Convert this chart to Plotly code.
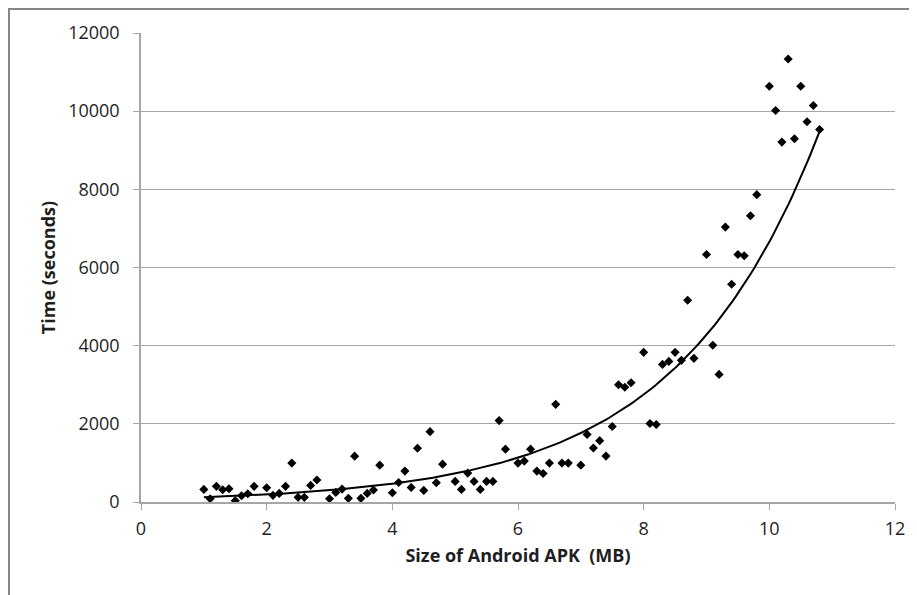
import numpy as np
import plotly.graph_objects as go

# APK size (MB)
size_mb = [
    1.0, 1.1, 1.2, 1.3, 1.4, 1.5, 1.6, 1.7, 1.8,
    2.0, 2.1, 2.2, 2.3, 2.4, 2.5, 2.6, 2.7, 2.8,
    3.0, 3.1, 3.2, 3.3, 3.4, 3.5, 3.6, 3.7, 3.8,
    4.0, 4.1, 4.2, 4.3, 4.4, 4.5, 4.6, 4.7, 4.8,
    5.0, 5.1, 5.2, 5.3, 5.4, 5.5, 5.6, 5.7, 5.8,
    6.0, 6.1, 6.2, 6.3, 6.4, 6.5, 6.6, 6.7, 6.8,
    7.0, 7.1, 7.2, 7.3, 7.4, 7.5, 7.6, 7.7, 7.8,
    8.0, 8.1, 8.2, 8.3, 8.4, 8.5, 8.6, 8.7, 8.8,
    9.0, 9.1, 9.2, 9.3, 9.4, 9.5, 9.6, 9.7, 9.8,
    10.0, 10.1, 10.2, 10.3, 10.4, 10.5, 10.6, 10.7, 10.8,
]

# Time (seconds)
time_s = [
    323, 85, 400, 315, 340, 34, 160, 212, 400,
    365, 170, 220, 400, 995, 119, 119, 425, 561,
    85, 246, 330, 93, 1173, 93, 220, 306, 943,
    238, 500, 790, 374, 1377, 297, 1800, 493, 969,
    527, 323, 740, 527, 323, 527, 527, 2083, 1352,
    995, 1046, 1352, 790, 731, 995, 2499, 995, 995,
    943, 1730, 1380, 1570, 1175, 1930, 3000, 2935, 3050,
    3829, 2009, 1983, 3521, 3598, 3829, 3624, 5162, 3675,
    6333, 4009, 3265, 7034, 5573, 6333, 6300, 7325, 7864,
    10638, 10017, 9209, 11336, 9294, 10638, 9728, 10145, 9532,
]

x_ticks = [0, 2, 4, 6, 8, 10, 12]
y_ticks = [0, 2000, 4000, 6000, 8000, 10000, 12000]

# Exponential trendline (least squares on ln(y), as a spreadsheet does)
xa = np.array(size_mb, dtype=float)
ya = np.array(time_s, dtype=float)
b, ln_a = np.polyfit(xa, np.log(ya), 1)
trend_x = np.linspace(xa.min(), xa.max(), 200)
trend_y = np.exp(ln_a) * np.exp(b * trend_x)

FONT = "Open Sans"
TXT = "#1e1e1e"
# page has an 8px body margin; figure starts at page (8, 8)
W, H = 909, 587
ML, MR, MT, MB = 133, 22, 25, 93
pw, ph = W - ML - MR, H - MT - MB

fig = go.Figure()
fig.add_trace(go.Scatter(
    x=size_mb, y=time_s, mode="markers",
    marker=dict(symbol="diamond", size=7, color="#000000"),
    showlegend=False, hoverinfo="x+y",
))
fig.add_trace(go.Scatter(
    x=trend_x, y=trend_y, mode="lines",
    line=dict(color="#000000", width=2),
    showlegend=False, hoverinfo="skip",
))

def px_to_paper_x(p):
    return (p - ML) / pw

def px_to_paper_y(p):
    return (H - MB - p) / ph

# outer chart frame along the figure's left and top edges
fig.add_shape(type="rect", xref="paper", yref="paper",
              x0=px_to_paper_x(1), x1=px_to_paper_x(W + 20),
              y0=px_to_paper_y(H + 20), y1=px_to_paper_y(1),
              line=dict(color="#868686", width=2), fillcolor="rgba(0,0,0,0)",
              layer="below")

fig.update_layout(
    width=W, height=H,
    margin=dict(l=ML, r=MR, t=MT, b=MB, pad=0),
    paper_bgcolor="#ffffff", plot_bgcolor="#ffffff",
    font=dict(family=FONT, size=18, color=TXT),
    xaxis=dict(
        range=[0, 12], tickvals=x_ticks, ticktext=[str(v) for v in x_ticks],
        showgrid=False, zeroline=False,
        showline=True, linecolor="#A6A6A6", linewidth=1.5,
        ticks="outside", ticklen=6, tickcolor="#A6A6A6", tickwidth=1,
        ticklabelstandoff=4,
        tickfont=dict(family=FONT, size=18, color=TXT),
        title=dict(text="<b>Size of Android APK  (MB)</b>", standoff=10,
                   font=dict(family=FONT, size=18, color=TXT)),
    ),
    yaxis=dict(
        range=[0, 12000], tickvals=y_ticks, ticktext=[str(v) for v in y_ticks],
        showgrid=True, gridcolor="#A6A6A6", gridwidth=1.2,
        zeroline=False,
        showline=True, linecolor="#A6A6A6", linewidth=1.5,
        ticks="outside", ticklen=6, tickcolor="#A6A6A6", tickwidth=1,
        ticklabelstandoff=10,
        tickfont=dict(family=FONT, size=18, color=TXT),
        title=dict(text="<b>Time (seconds)</b>", standoff=8,
                   font=dict(family=FONT, size=18, color=TXT)),
    ),
)

fig.write_html("out.html")
